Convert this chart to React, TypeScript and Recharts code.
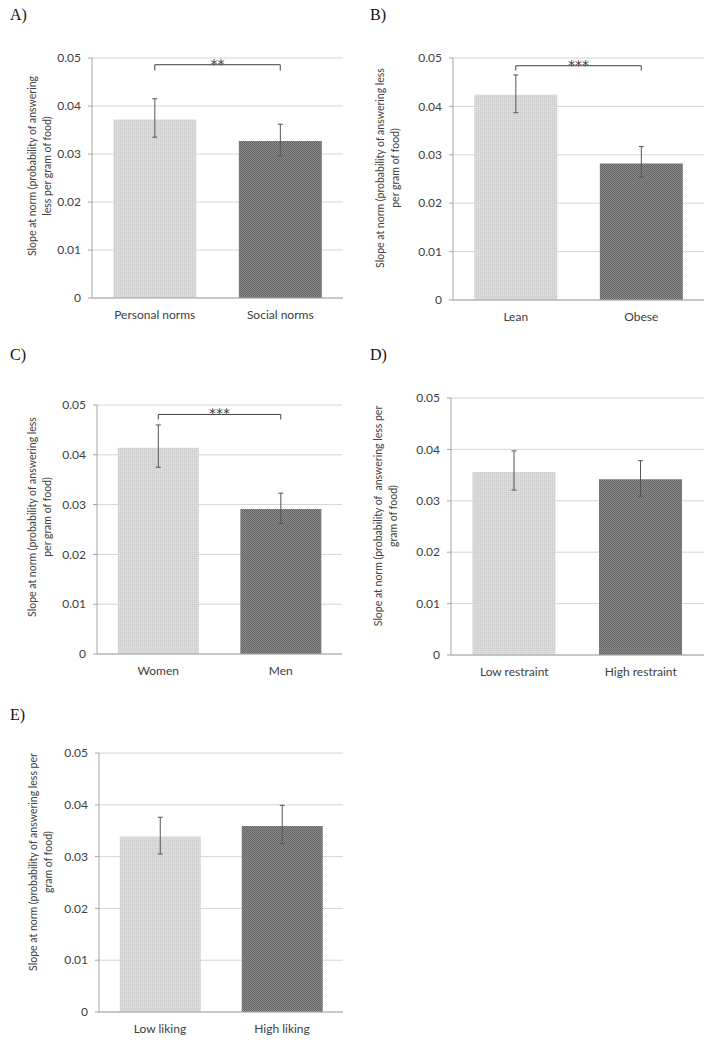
import { Bar, BarChart, CartesianGrid, Cell, ErrorBar, ReferenceLine, XAxis, YAxis } from 'recharts'

const yTicks = [0, 0.01, 0.02, 0.03, 0.04, 0.05]

const normsCategories = ['Personal norms', 'Social norms']
const normsValues = [0.0372, 0.0327]
const normsUpper = [0.0415, 0.0362]
const normsLower = [0.0335, 0.0296]
const normsBracket = [0.0486, 0.0474]

const weightCategories = ['Lean', 'Obese']
const weightValues = [0.0424, 0.0282]
const weightUpper = [0.0465, 0.0317]
const weightLower = [0.0387, 0.0254]
const weightBracket = [0.0484, 0.0474]

const sexCategories = ['Women', 'Men']
const sexValues = [0.0414, 0.0291]
const sexUpper = [0.046, 0.0323]
const sexLower = [0.0375, 0.0262]
const sexBracket = [0.0481, 0.0471]

const restraintCategories = ['Low restraint', 'High restraint']
const restraintValues = [0.0356, 0.0342]
const restraintUpper = [0.0397, 0.0378]
const restraintLower = [0.0321, 0.0309]

const likingCategories = ['Low liking', 'High liking']
const likingValues = [0.0339, 0.0359]
const likingUpper = [0.0376, 0.0399]
const likingLower = [0.0305, 0.0325]

const FONT = "Lato, 'Open Sans', sans-serif"
const AXIS = '#a6a6a6'
const TEXT = '#404040'
const Y_W = 40
const X_H = 30

const buildRows = (cats: string[], values: number[], upper: number[], lower: number[]) =>
  cats.map((name, i) => ({
    name,
    value: values[i],
    err: [values[i] - lower[i], upper[i] - values[i]],
    pos: i + 0.5,
  }))

type PanelProps = {
  id: string
  letter: string
  x: number
  y: number
  width: number
  height: number
  plot: { l: number; r: number; t: number; b: number }
  cats: string[]
  values: number[]
  upper: number[]
  lower: number[]
  bracket?: number[]
  stars?: string
  title: string[]
  titleX: number
  titleY: number
}

const Panel = (p: PanelProps) => {
  const rows = buildRows(p.cats, p.values, p.upper, p.lower)
  const margin = {
    top: p.plot.t,
    right: p.width - p.plot.r,
    left: p.plot.l - Y_W,
    bottom: p.height - p.plot.b - X_H,
  }
  const bracketLines = p.bracket
    ? [
        <ReferenceLine
          key="top"
          xAxisId="cat"
          ifOverflow="visible"
          stroke={TEXT}
          strokeWidth={1}
          segment={[
            { x: p.cats[0], y: p.bracket[0] },
            { x: p.cats[1], y: p.bracket[0] },
          ]}
          label={{ value: p.stars, position: 'top', offset: -4, fill: TEXT, fontSize: 14, fontFamily: "'DejaVu Sans', sans-serif" }}
        />,
        <ReferenceLine
          key="legL"
          xAxisId="cat"
          ifOverflow="visible"
          stroke={TEXT}
          strokeWidth={1}
          segment={[
            { x: p.cats[0], y: p.bracket[0] },
            { x: p.cats[0], y: p.bracket[1] },
          ]}
        />,
        <ReferenceLine
          key="legR"
          xAxisId="cat"
          ifOverflow="visible"
          stroke={TEXT}
          strokeWidth={1}
          segment={[
            { x: p.cats[1], y: p.bracket[0] },
            { x: p.cats[1], y: p.bracket[1] },
          ]}
        />,
      ]
    : null

  return (
    <>
      <div
        style={{
          position: 'absolute',
          left: p.x + 10,
          top: p.y + 6,
          fontFamily: "'Liberation Serif', 'Times New Roman', serif",
          fontSize: 16,
          color: '#111',
        }}
      >
        {p.letter}
      </div>
      <div
        style={{
          position: 'absolute',
          left: p.titleX,
          top: p.titleY,
          transform: 'translate(-50%, -50%) rotate(-90deg)',
          whiteSpace: 'pre',
          textAlign: 'center',
          fontFamily: FONT,
          fontSize: 10.5,
          lineHeight: '15px',
          color: TEXT,
        }}
      >
        {p.title.map((t) => (
          <div key={t}>{t}</div>
        ))}
      </div>
      <div style={{ position: 'absolute', left: p.x, top: p.y, width: p.width, height: p.height }}>
        <BarChart width={p.width} height={p.height} data={rows} margin={margin} barCategoryGap="17%">
          <defs>
            <pattern id={`${p.id}-light`} width={2} height={2} patternUnits="userSpaceOnUse">
              <rect width={2} height={2} fill="#dbdbdb" />
              <rect width={1} height={1} fill="#cacaca" />
            </pattern>
            <pattern id={`${p.id}-dark`} width={2} height={2} patternUnits="userSpaceOnUse">
              <rect width={2} height={2} fill="#8c8c8c" />
              <rect width={1} height={1} fill="#646464" />
              <rect x={1} y={1} width={1} height={1} fill="#646464" />
            </pattern>
          </defs>
          <CartesianGrid xAxisId="cat" vertical={false} stroke="#d4d4d4" />
          <XAxis
            xAxisId="edge"
            type="number"
            dataKey="pos"
            domain={[0, 2]}
            ticks={[0, 1, 2]}
            allowDataOverflow
            tick={false}
            axisLine={false}
            tickLine={{ stroke: AXIS }}
            tickSize={5}
            height={0}
          />
          <XAxis
            xAxisId="cat"
            dataKey="name"
            interval={0}
            tickLine={false}
            axisLine={{ stroke: AXIS }}
            tickSize={0}
            tickMargin={12}
            height={X_H}
            tick={{ fill: TEXT, fontSize: 12, fontFamily: FONT }}
          />
          <YAxis
            domain={[0, 0.05]}
            ticks={yTicks}
            allowDataOverflow
            width={Y_W}
            tickFormatter={(v: number) => (v === 0 ? '0' : v.toFixed(2))}
            axisLine={{ stroke: AXIS }}
            tickLine={{ stroke: AXIS }}
            tickSize={4}
            tickMargin={7}
            tick={{ fill: TEXT, fontSize: 12, fontFamily: FONT }}
          />
          <Bar xAxisId="cat" dataKey="value" isAnimationActive={false}>
            {rows.map((r, i) => (
              <Cell key={r.name} fill={`url(#${p.id}-${i === 0 ? 'light' : 'dark'})`} />
            ))}
            <ErrorBar dataKey="err" direction="y" width={2.5} stroke="#555555" strokeWidth={1} isAnimationActive={false} />
          </Bar>
          {bracketLines}
        </BarChart>
      </div>
    </>
  )
}

export default function App() {
  return (
    <div style={{ position: 'absolute', left: 0, top: 0, width: 727, height: 1048, background: '#fff' }}>
      <Panel
        id="a"
        letter="A)"
        x={0}
        y={0}
        width={360}
        height={340}
        plot={{ l: 92, r: 343, t: 58, b: 298 }}
        cats={normsCategories}
        values={normsValues}
        upper={normsUpper}
        lower={normsLower}
        bracket={normsBracket}
        stars="**"
        title={['Slope at norm (probability of answering', 'less per gram of food)']}
        titleX={40}
        titleY={166}
      />
      <Panel
        id="b"
        letter="B)"
        x={360}
        y={0}
        width={367}
        height={340}
        plot={{ l: 93, r: 344, t: 58, b: 300 }}
        cats={weightCategories}
        values={weightValues}
        upper={weightUpper}
        lower={weightLower}
        bracket={weightBracket}
        stars="***"
        title={['Slope at norm (probability of answering less', 'per gram of food)']}
        titleX={388}
        titleY={168}
      />
      <Panel
        id="c"
        letter="C)"
        x={0}
        y={340}
        width={360}
        height={350}
        plot={{ l: 97, r: 342, t: 65, b: 314 }}
        cats={sexCategories}
        values={sexValues}
        upper={sexUpper}
        lower={sexLower}
        bracket={sexBracket}
        stars="***"
        title={['Slope at norm (probability of answering less', 'per gram of food)']}
        titleX={40}
        titleY={517}
      />
      <Panel
        id="d"
        letter="D)"
        x={360}
        y={340}
        width={367}
        height={350}
        plot={{ l: 91, r: 344, t: 58, b: 315 }}
        cats={restraintCategories}
        values={restraintValues}
        upper={restraintUpper}
        lower={restraintLower}
        title={['Slope at norm (probability of  answering less per', 'gram of food)']}
        titleX={386}
        titleY={516}
      />
      <Panel
        id="e"
        letter="E)"
        x={0}
        y={700}
        width={360}
        height={348}
        plot={{ l: 99, r: 343, t: 53, b: 312 }}
        cats={likingCategories}
        values={likingValues}
        upper={likingUpper}
        lower={likingLower}
        title={['Slope at norm (probability of answering less per', 'gram of food)']}
        titleX={41}
        titleY={862}
      />
    </div>
  )
}
